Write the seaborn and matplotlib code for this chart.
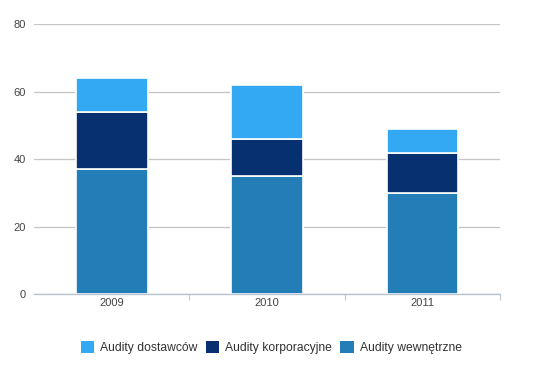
import matplotlib
matplotlib.use("Agg")
import matplotlib.pyplot as plt
import seaborn as sns
import numpy as np
import pandas as pd
from matplotlib.patches import Patch

years = ["2009", "2010", "2011"]
wewnetrzne = [37, 35, 30]
korporacyjne = [17, 11, 12]
dostawcow = [10, 16, 7]
series_names = ["Audity dostawców", "Audity korporacyjne", "Audity wewnętrzne"]
colors = {"Audity dostawców": "#33a9f3", "Audity korporacyjne": "#06306f", "Audity wewnętrzne": "#237eb8"}
yticks = [0, 20, 40, 60, 80]

sns.set_theme(style="white")
plt.rcParams["font.family"] = ["Liberation Sans", "DejaVu Sans"]

fig = plt.figure(figsize=(5.44, 3.84), dpi=100)
ax = fig.add_axes([0.0625, 0.2336, 0.8575, 0.7031])

b1 = np.array(wewnetrzne)
b2 = b1 + np.array(korporacyjne)
df = pd.DataFrame({"year": years, "w": wewnetrzne, "k": korporacyjne, "d": dostawcow})

sns.barplot(data=df, x="year", y="w", color=colors["Audity wewnętrzne"], width=0.46,
            edgecolor="white", linewidth=1.2, saturation=1, ax=ax, zorder=3)
sns.barplot(data=df, x="year", y="k", bottom=b1, color=colors["Audity korporacyjne"], width=0.46,
            edgecolor="white", linewidth=1.2, saturation=1, ax=ax, zorder=3)
sns.barplot(data=df, x="year", y="d", bottom=b2, color=colors["Audity dostawców"], width=0.46,
            edgecolor="white", linewidth=1.2, saturation=1, ax=ax, zorder=3)

ax.set_xlim(-0.5, 2.5)
ax.set_ylim(0, 80)
ax.set_yticks(yticks)
ax.set_yticklabels([str(t) for t in yticks])
ax.yaxis.grid(True, color="#c4c4c4", linewidth=0.9, zorder=0)
ax.set_axisbelow(True)
ax.set_xlabel("")
ax.set_ylabel("")
for s in ["top", "right", "left"]:
    ax.spines[s].set_visible(False)
ax.spines["bottom"].set_color("#b8c4d0")
ax.spines["bottom"].set_linewidth(1.0)
ax.spines["bottom"].set_zorder(4)
ax.tick_params(axis="y", length=0, labelsize=8, labelcolor="#444444", pad=6)
ax.tick_params(axis="x", which="major", length=0, labelsize=8, labelcolor="#444444", pad=3)
# boundary tick marks
ax.set_xticks([0.5, 1.5, 2.5], minor=True)
ax.tick_params(axis="x", which="minor", bottom=True, length=4, color="#c8c8c8", width=0.8)

handles = [Patch(facecolor=colors[n], edgecolor="none", label=n) for n in series_names]
fig.legend(handles=handles, loc="center left", bbox_to_anchor=(0.128, 0.094), ncol=3, frameon=False,
           fontsize=8.7, handlelength=1.1, handleheight=1.1, handletextpad=0.5, columnspacing=0.7,
           labelcolor="#333333")

fig.savefig("out.png", dpi=100)
